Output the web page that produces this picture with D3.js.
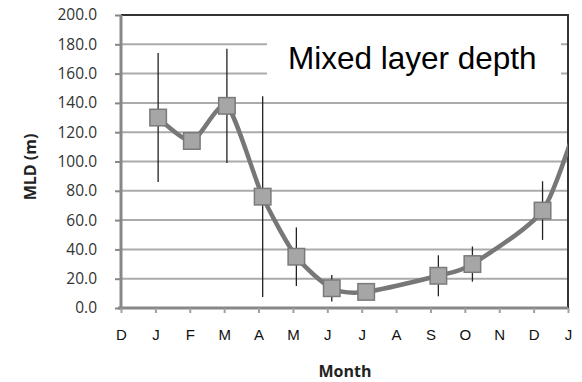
<!DOCTYPE html>
<html>
<head>
<meta charset="utf-8">
<script src="https://cdn.jsdelivr.net/npm/d3@7"></script>
<style>
  body { margin: 0; background: #fff; }
  svg { display: block; }
</style>
</head>
<body>
<svg id="chart" width="582" height="382"></svg>
<script>
// month labels along the bottom (prev Dec .. next Jan)
const monthLabels = ["D", "J", "F", "M", "A", "M", "J", "J", "A", "S", "O", "N", "D", "J"];
const yTickValues = [0, 20, 40, 60, 80, 100, 120, 140, 160, 180, 200];

// monthly mean MLD, position on month axis, and error (+/-)
// last point is January of the next year, outside the axis (only its line shows)
const pointMonth = [1.08, 2.06, 3.08, 4.12, 5.1, 6.13, 7.13, 9.23, 10.22, 12.26, 13.3];
const mldMean    = [130, 114, 138, 76, 35, 13.5, 11, 22, 30, 66.5, 130];
const mldError   = [44, 0, 39, 68.5, 20, 9, 0, 14, 12, 20, 44];

const svg = d3.select("svg#chart");
const plotLeft = 121, plotRight = 568, plotTop = 15, plotBottom = 308;

const xScale = d3.scaleLinear().domain([0, 13]).range([plotLeft, plotRight]);
const yScale = d3.scaleLinear().domain([0, 200]).range([plotBottom, plotTop]);

const points = pointMonth.map((m, i) => ({ x: m, y: mldMean[i], e: mldError[i] }));
const shown = points.filter(d => d.x <= 13);

svg.append("clipPath").attr("id", "plotClip")
    .append("rect")
    .attr("x", plotLeft).attr("y", plotTop)
    .attr("width", plotRight - plotLeft).attr("height", plotBottom - plotTop);

// gridlines
svg.append("g")
    .selectAll("line")
    .data(yTickValues.filter(v => v > 0 && v < 200))
    .enter()
    .append("line")
    .attr("x1", plotLeft).attr("x2", plotRight)
    .attr("y1", d => yScale(d)).attr("y2", d => yScale(d))
    .attr("stroke", "#ababab")
    .attr("stroke-width", 2);

// white box behind the title text
svg.append("rect")
    .attr("x", 267).attr("y", 30)
    .attr("width", 294).attr("height", 62)
    .attr("fill", "#fff");

svg.append("text")
    .attr("x", 288).attr("y", 69)
    .attr("font-family", "Liberation Sans, Arial, sans-serif")
    .attr("font-size", 31.5)
    .attr("fill", "#000")
    .text("Mixed layer depth");

// top and right borders
svg.append("path")
    .attr("d", `M${plotLeft},${plotTop}H${plotRight}V${plotBottom}`)
    .attr("fill", "none")
    .attr("stroke", "#333")
    .attr("stroke-width", 2);

// y axis
const yAxis = svg.append("g")
    .attr("transform", `translate(${plotLeft},0)`)
    .call(d3.axisLeft(yScale).tickValues(yTickValues).tickSize(6).tickPadding(18)
        .tickFormat(d3.format(".1f")));
yAxis.select(".domain").attr("stroke", "#878787").attr("stroke-width", 3)
    .attr("d", `M0,${plotTop}V${plotBottom + 1.5}`);
yAxis.selectAll(".tick line").attr("stroke", "#878787").attr("stroke-width", 2);
yAxis.selectAll(".tick text")
    .attr("font-family", "Open Sans, sans-serif")
    .attr("font-size", 15.5)
    .attr("fill", "#333");

// x axis
const xAxis = svg.append("g")
    .attr("transform", `translate(0,${plotBottom})`)
    .call(d3.axisBottom(xScale).tickValues(d3.range(monthLabels.length))
        .tickSize(5).tickPadding(16).tickFormat(i => monthLabels[i]));
xAxis.select(".domain").attr("stroke", "#878787").attr("stroke-width", 3)
    .attr("d", `M${plotLeft - 3},0H${plotRight}`);
xAxis.selectAll(".tick line").attr("stroke", "#a0a0a0").attr("stroke-width", 2);
xAxis.selectAll(".tick text")
    .attr("font-family", "Liberation Sans, Arial, sans-serif")
    .attr("font-size", 15)
    .attr("fill", "#111");

// axis titles
svg.append("text")
    .attr("transform", "translate(36,167) rotate(-90)")
    .attr("text-anchor", "middle")
    .attr("font-family", "Open Sans, sans-serif")
    .attr("font-weight", "bold")
    .attr("font-size", 16)
    .attr("fill", "#222")
    .text("MLD (m)");

svg.append("text")
    .attr("x", 345).attr("y", 377)
    .attr("text-anchor", "middle")
    .attr("font-family", "Open Sans, sans-serif")
    .attr("font-weight", "bold")
    .attr("font-size", 16)
    .attr("fill", "#222")
    .text("Month");

const plot = svg.append("g").attr("clip-path", "url(#plotClip)");

// error bars
plot.selectAll(".err")
    .data(shown.filter(d => d.e > 0))
    .enter()
    .append("line")
    .attr("class", "err")
    .attr("x1", d => xScale(d.x)).attr("x2", d => xScale(d.x))
    .attr("y1", d => yScale(d.y + d.e)).attr("y2", d => yScale(Math.max(0, d.y - d.e)))
    .attr("stroke", "#222")
    .attr("stroke-width", 1.3);

// smoothed line
const line = d3.line()
    .x(d => xScale(d.x))
    .y(d => yScale(d.y))
    .curve(d3.curveCardinal.tension(0.3));

plot.append("path")
    .datum(points)
    .attr("d", line)
    .attr("fill", "none")
    .attr("stroke", "#777")
    .attr("stroke-width", 4.5);

// square markers
const size = 16.5;
plot.selectAll(".marker")
    .data(shown)
    .enter()
    .append("rect")
    .attr("class", "marker")
    .attr("x", d => xScale(d.x) - size / 2)
    .attr("y", d => yScale(d.y) - size / 2)
    .attr("width", size).attr("height", size)
    .attr("fill", "#a6a6a6")
    .attr("stroke", "#7a7a7a")
    .attr("stroke-width", 1.5);
</script>
</body>
</html>
